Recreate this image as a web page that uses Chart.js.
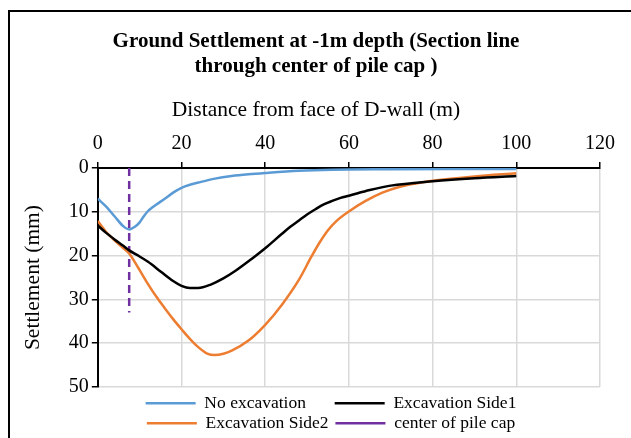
<!DOCTYPE html>
<html>
<head>
<meta charset="utf-8">
<script src="https://cdn.jsdelivr.net/npm/chart.js@4/dist/chart.umd.min.js"></script>
<style>
  html, body { margin: 0; padding: 0; background: #fff; }
  #wrap { position: relative; width: 631px; height: 438px; overflow: hidden; }
  #frame { position: absolute; left: 8px; top: 10px; width: 700px; height: 500px;
           border-top: 2px solid #000; border-left: 2px solid #000; }
  canvas { position: absolute; left: 0; top: 0; }
</style>
</head>
<body>
<div id="wrap">
  <div id="frame"></div>
  <canvas id="chart" width="631" height="438"></canvas>
</div>
<script>
// distance from face of D-wall (m) and settlement (mm)
const noExcX = [0, 2, 4, 6, 7.5, 9, 10, 11, 12, 13, 14, 16, 18, 20, 22, 24, 28, 32, 36, 40, 48, 56, 70, 85, 100];
const noExcY = [7, 8.8, 11, 13.2, 14, 13.3, 12.4, 11, 9.8, 9.0, 8.3, 7.0, 5.6, 4.5, 3.8, 3.3, 2.4, 1.8, 1.4, 1.1, 0.6, 0.35, 0.25, 0.2, 0.2];

const side1X = [0, 2, 4, 6, 7.5, 10, 12, 15, 18, 20, 22, 24, 27, 30, 33, 36, 40, 44, 46, 48, 50, 52, 54, 56, 58, 60, 65, 70, 80, 90, 100];
const side1Y = [13.1, 14.8, 16.3, 17.7, 18.8, 20.2, 21.4, 23.6, 25.8, 26.9, 27.4, 27.4, 26.6, 25.2, 23.4, 21.3, 18.3, 15.0, 13.4, 12.0, 10.6, 9.4, 8.3, 7.5, 6.8, 6.3, 5.0, 4.0, 3.0, 2.3, 1.8];

const side2X = [0, 2, 4, 6, 7.5, 9, 10, 12, 14, 16, 18, 20, 22, 24, 26, 28, 30, 32, 36, 40, 44, 48, 51, 53, 55, 57, 60, 64, 68, 72, 76, 80, 90, 100];
const side2Y = [12.1, 14.6, 16.5, 18.2, 19.5, 21.7, 23.3, 26.5, 29.4, 32.0, 34.5, 36.8, 39.0, 40.9, 42.3, 42.7, 42.4, 41.7, 39.4, 35.8, 31.2, 25.6, 20.3, 17.0, 14.2, 12.1, 9.9, 7.5, 5.6, 4.3, 3.5, 2.9, 1.9, 1.2];

const pileCapX = [7.5, 7.5];
const pileCapY = [0, 33];

const xTicks = [0, 20, 40, 60, 80, 100, 120];
const yTicks = [0, 10, 20, 30, 40, 50];

function pts(xs, ys) {
  return xs.map((x, i) => ({ x: x, y: ys[i] }));
}

const serif = "'Liberation Serif', 'Times New Roman', serif";
Chart.defaults.font.family = serif;
Chart.defaults.color = '#000';

const LEGEND_SIZE = 17.5;
const LEGEND_COL = 128.75;  // text width of the first legend column
const LEGEND_BAND = { center: 331, width: 400, drop: 5 };

// two legend items per row, like the original
const legendBand = {
  id: 'legendBand',
  beforeLayout(chart) {
    const lg = chart.legend;
    if (!lg || lg._band) return;
    lg._band = true;
    const fitRows = lg._fitRows;
    const draw = lg._draw;
    lg._fitRows = function (...a) {
      const full = this.maxWidth;
      this.maxWidth = Math.min(full, LEGEND_BAND.width);
      const h = fitRows.apply(this, a);
      this.maxWidth = full;
      return h;
    };
    lg._draw = function () {
      const { left, right, top } = this;
      this.left = LEGEND_BAND.center - LEGEND_BAND.width / 2;
      this.right = LEGEND_BAND.center + LEGEND_BAND.width / 2;
      this.top = top + LEGEND_BAND.drop;
      draw.call(this);
      this.left = left; this.right = right; this.top = top;
    };
  }
};

function legendLabels(chart) {
  const items = Chart.defaults.plugins.legend.labels.generateLabels(chart);
  const ctx = chart.ctx;
  ctx.save();
  ctx.font = LEGEND_SIZE + 'px ' + serif;
  const sp = ctx.measureText(' ').width;
  [[0, 2], [1, 3]].forEach((col, c) => {
    const ws = col.map(i => ctx.measureText(items[i].text).width);
    const target = c === 0 ? Math.max(LEGEND_COL, ...ws) : Math.max(...ws);
    col.forEach((i, k) => {
      items[i].text += ' '.repeat(Math.max(0, Math.round((target - ws[k]) / sp)));
    });
  });
  ctx.restore();
  return items;
}

const gridColor = c => (c.tick && c.tick.value === 0) ? 'rgba(0,0,0,0)' : '#d9d9d9';

new Chart(document.getElementById('chart'), {
  type: 'line',
  data: {
    datasets: [
      { label: 'No excavation', data: pts(noExcX, noExcY), borderColor: '#5B9BD5',
        borderWidth: 2.5, pointRadius: 0, cubicInterpolationMode: 'monotone' },
      { label: 'Excavation Side1', data: pts(side1X, side1Y), borderColor: '#000000',
        borderWidth: 2.5, pointRadius: 0, cubicInterpolationMode: 'monotone' },
      { label: 'Excavation Side2', data: pts(side2X, side2Y), borderColor: '#ED7D31',
        borderWidth: 2.5, pointRadius: 0, cubicInterpolationMode: 'monotone' },
      { label: 'center of pile cap', data: pts(pileCapX, pileCapY), borderColor: '#7030A0',
        borderWidth: 2.5, borderDash: [8, 5], pointRadius: 0 }
    ]
  },
  options: {
    responsive: false,
    animation: false,
    layout: { padding: { top: 20, left: 32, right: 31, bottom: 1 } },
    plugins: {
      title: {
        display: true,
        text: ['Ground Settlement at -1m depth (Section line', 'through center of pile cap )'],
        font: { size: 21, weight: 'bold', lineHeight: 1.15 },
        padding: { top: 10, bottom: 10 }
      },
      subtitle: {
        display: true,
        text: 'Distance from face of D-wall (m)',
        font: { size: 21.5 },
        padding: { top: 9, bottom: 3 }
      },
      legend: {
        position: 'bottom',
        labels: {
          usePointStyle: true,
          pointStyle: 'line',
          pointStyleWidth: 50,
          font: { size: LEGEND_SIZE },
          padding: 2.5,
          generateLabels: legendLabels
        }
      },
      tooltip: { enabled: false }
    },
    scales: {
      x: {
        type: 'linear',
        position: 'top',
        min: 0, max: 120,
        afterBuildTicks: s => { s.ticks = xTicks.map(v => ({ value: v })); },
        ticks: { font: { size: 20 }, padding: 6 },
        grid: { color: gridColor, lineWidth: 1.5, tickColor: '#000', tickLength: 6 },
        border: { color: '#000', width: 2 }
      },
      y: {
        type: 'linear',
        reverse: true,
        min: 0, max: 50,
        afterBuildTicks: s => { s.ticks = yTicks.map(v => ({ value: v })); },
        ticks: { font: { size: 20 }, padding: 3 },
        title: { display: true, text: 'Settlement (mm)', font: { size: 21.5 },
                 padding: { top: -12, bottom: 20 } },
        grid: { color: gridColor, lineWidth: 1.5, tickColor: '#000', tickLength: 6 },
        border: { color: '#000', width: 2 }
      }
    }
  },
  plugins: [legendBand]
});
</script>
</body>
</html>
